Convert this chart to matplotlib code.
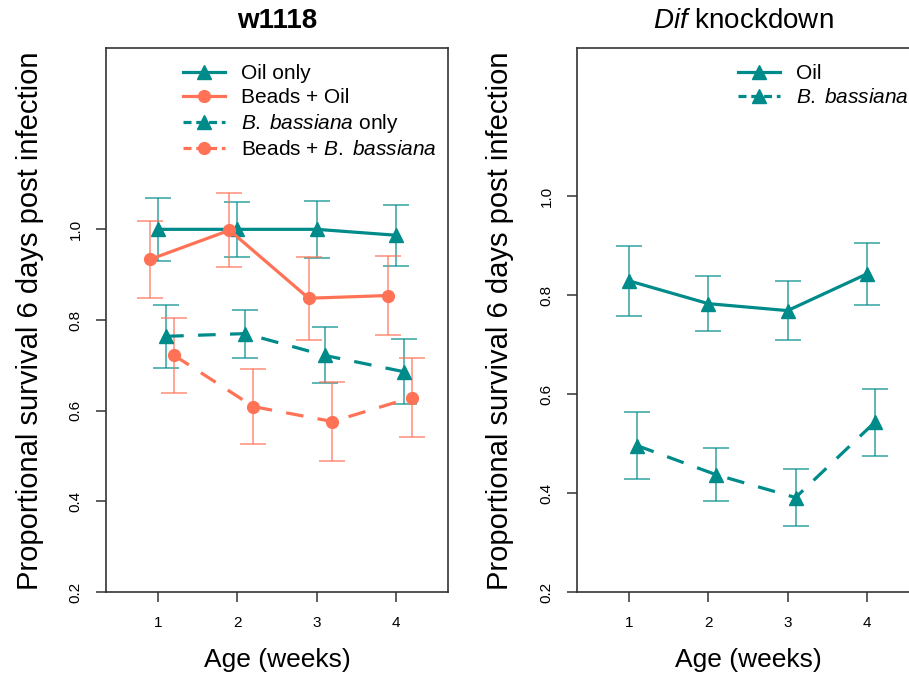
import matplotlib
matplotlib.use("Agg")
import matplotlib.pyplot as plt
from matplotlib.lines import Line2D
import numpy as np

plt.rcParams['font.family'] = ['Liberation Sans', 'DejaVu Sans']
plt.rcParams['mathtext.fontset'] = 'custom'
plt.rcParams['mathtext.rm'] = 'Liberation Sans'
plt.rcParams['mathtext.it'] = 'Liberation Sans:italic'

TEAL = '#008B8B'
SALMON = '#FF7256'

weeks = [1, 2, 3, 4]
xticklabels = ['1', '2', '3', '4']
yticks = [0.2, 0.4, 0.6, 0.8, 1.0]

# w1118 panel
oil_only = [1.0, 1.0, 1.0, 0.987]
oil_only_se = [0.069, 0.060, 0.063, 0.067]
beads_oil = [0.934, 0.998, 0.848, 0.854]
beads_oil_se = [0.085, 0.082, 0.092, 0.088]
bb_only = [0.764, 0.770, 0.722, 0.686]
bb_only_se = [0.070, 0.053, 0.062, 0.072]
beads_bb = [0.722, 0.609, 0.576, 0.629]
beads_bb_se = [0.082, 0.083, 0.088, 0.087]

# Dif knockdown panel
dif_oil = [0.829, 0.783, 0.769, 0.843]
dif_oil_se = [0.071, 0.055, 0.060, 0.062]
dif_bb = [0.496, 0.437, 0.391, 0.543]
dif_bb_se = [0.067, 0.054, 0.058, 0.068]

fig = plt.figure(figsize=(9.09, 6.75), dpi=100)
W, H = 909, 675
ax1 = fig.add_axes([106 / W, 1 - 592 / H, 342 / W, 544 / H])
ax2 = fig.add_axes([577 / W, 1 - 592 / H, 342 / W, 544 / H])

LW = 2.3
DASH = (5.5, 4.5)


def series(ax, x, y, se, color, marker, ms, dashed, offset):
    xs = np.array(x, dtype=float) + offset
    ls = '--' if dashed else '-'
    line, = ax.plot(xs, y, ls, color=color, lw=LW, marker=marker, ms=ms,
                    zorder=3)
    if dashed:
        line.set_dashes(DASH)
    ax.errorbar(xs, y, yerr=se, fmt='none', ecolor=color, elinewidth=1.1,
                capsize=9.5, capthick=1.1, alpha=0.8, zorder=2)
    return line


series(ax1, weeks, oil_only, oil_only_se, TEAL, '^', 9.5, False, 0.0)
series(ax1, weeks, beads_oil, beads_oil_se, SALMON, 'o', 8.5, False, -0.1)
series(ax1, weeks, bb_only, bb_only_se, TEAL, '^', 9.5, True, 0.1)
series(ax1, weeks, beads_bb, beads_bb_se, SALMON, 'o', 8.5, True, 0.2)

series(ax2, weeks, dif_oil, dif_oil_se, TEAL, '^', 9.5, False, 0.0)
series(ax2, weeks, dif_bb, dif_bb_se, TEAL, '^', 9.5, True, 0.1)

ax1.set_ylim(0.2, 1.4)
ax2.set_ylim(0.2, 1.3)
for ax in (ax1, ax2):
    ax.set_xlim(0.34, 4.66)
    ax.set_xticks(weeks)
    ax.set_xticklabels(xticklabels)
    ax.set_yticks(yticks)
    ax.set_yticklabels(['%.1f' % v for v in yticks], rotation=90, va='center')
    ax.tick_params(axis='both', direction='out', length=7, width=1.1,
                   labelsize=11, color='#333333')
    ax.tick_params(axis='x', pad=10)
    ax.tick_params(axis='y', pad=10)
    for s in ax.spines.values():
        s.set_linewidth(1.2)
        s.set_color('#333333')


def leg_handle(color, marker, ms, dashed):
    h = Line2D([], [], color=color, lw=LW, marker=marker, ms=ms,
               ls='--' if dashed else '-')
    if dashed:
        h.set_dashes((2.5, 1.5))
    return h


BB = r'$\it{B.\;bassiana}$'
h1 = [leg_handle(TEAL, '^', 9.5, False), leg_handle(SALMON, 'o', 8.5, False),
      leg_handle(TEAL, '^', 9.5, True), leg_handle(SALMON, 'o', 8.5, True)]
l1 = ['Oil only', 'Beads + Oil', BB + ' only', 'Beads + ' + BB]
ax1.legend(h1, l1, loc='upper left', bbox_to_anchor=(77 / 342, 1 - 16 / 544),
           frameon=False, fontsize=15, handlelength=2.0, handletextpad=0.8,
           labelspacing=0.24, borderaxespad=0, borderpad=0)

h2 = [leg_handle(TEAL, '^', 9.5, False), leg_handle(TEAL, '^', 9.5, True)]
l2 = ['Oil', BB]
ax2.legend(h2, l2, loc='upper left', bbox_to_anchor=(161 / 342, 1 - 16 / 544),
           frameon=False, fontsize=15, handlelength=2.0, handletextpad=0.8,
           labelspacing=0.24, borderaxespad=0, borderpad=0)

fig.text(277 / W, 1 - 21 / H, 'w1118', ha='center', va='center',
         fontsize=20, fontweight='bold')
fig.text(743 / W, 1 - 21 / H, r'$\it{Dif}$ knockdown', ha='center',
         va='center', fontsize=20)

ylab = 'Proportional survival 6 days post infection'
fig.text(30 / W, 1 - 321 / H, ylab, rotation=90, ha='center', va='center',
         fontsize=21)
fig.text(500 / W, 1 - 321 / H, ylab, rotation=90, ha='center', va='center',
         fontsize=21)
fig.text(277 / W, 1 - 660 / H, 'Age (weeks)', ha='center', va='center',
         fontsize=19)
fig.text(748 / W, 1 - 660 / H, 'Age (weeks)', ha='center', va='center',
         fontsize=19)

fig.savefig('out.png', dpi=100)
